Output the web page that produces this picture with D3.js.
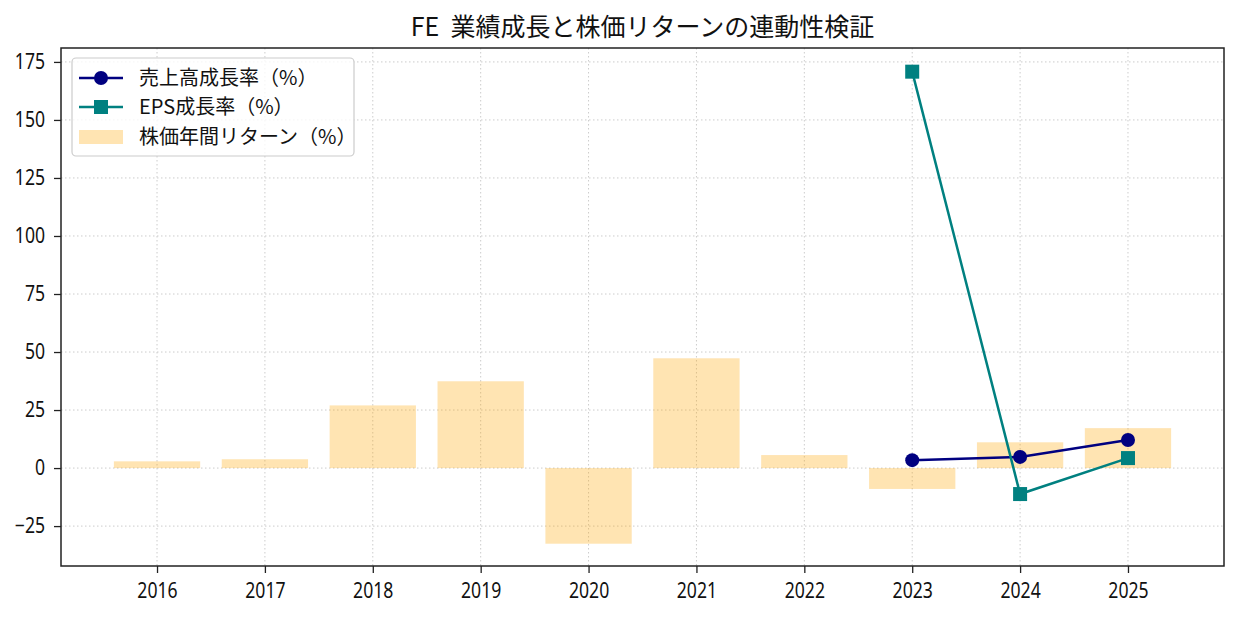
<!DOCTYPE html>
<html><head><meta charset="utf-8">
<script src="https://cdn.jsdelivr.net/npm/d3@7"></script>
<style>body{margin:0;background:#fff;} text{font-family:"Noto Sans CJK JP","Noto Sans",sans-serif;}</style>
</head><body>
<svg id="c" width="1238" height="617"></svg>
<script>
const years = ["2016","2017","2018","2019","2020","2021","2022","2023","2024","2025"];
const stockReturn = [2.9, 3.8, 27.0, 37.4, -32.6, 47.3, 5.6, -9.0, 11.1, 17.2];
const revenueYears = ["2023","2024","2025"];
const revenueGrowth = [3.4, 4.8, 12.1];
const epsYears = ["2023","2024","2025"];
const epsGrowth = [170.8, -11.2, 4.3];
const yTicks = [-25, 0, 25, 50, 75, 100, 125, 150, 175];
const title = "FE  業績成長と株価リターンの連動性検証";
const legendLabels = ["売上高成長率（%）", "EPS成長率（%）", "株価年間リターン（%）"];

const svg = d3.select("#c");
const L = 61, R = 1224, T = 48, B = 566;
const idx = d3.scaleLinear().domain([-0.89, 9.89]).range([L, R]);
const x = y => idx(years.indexOf(y));
const y = d3.scaleLinear().domain([-42.2, 181]).range([B, T]);
const bw = idx(0.4) - idx(-0.4);

// grid
const g = svg.append("g");
g.selectAll(".gx").data(years).join("line")
  .attr("x1", d => x(d)).attr("x2", d => x(d)).attr("y1", T).attr("y2", B)
  .attr("stroke", "#cccccc").attr("stroke-width", 1).attr("stroke-dasharray", "1.5,2.5");
g.selectAll(".gy").data(yTicks).join("line")
  .attr("x1", L).attr("x2", R).attr("y1", d => y(d)).attr("y2", d => y(d))
  .attr("stroke", "#cccccc").attr("stroke-width", 1).attr("stroke-dasharray", "1.5,2.5");

// bars
svg.append("g").selectAll("rect").data(years).join("rect")
  .attr("x", d => x(d) - bw/2).attr("width", bw)
  .attr("y", (d,i) => y(Math.max(0, stockReturn[i])))
  .attr("height", (d,i) => Math.abs(y(stockReturn[i]) - y(0)))
  .attr("fill", "orange").attr("fill-opacity", 0.3);

// lines
const line = d3.line().x(d => x(d[0])).y(d => y(d[1]));
const rev = revenueYears.map((d,i) => [d, revenueGrowth[i]]);
const eps = epsYears.map((d,i) => [d, epsGrowth[i]]);
svg.append("path").attr("d", line(rev)).attr("fill","none").attr("stroke","navy").attr("stroke-width",2.5);
svg.append("g").selectAll("circle").data(rev).join("circle")
  .attr("cx", d => x(d[0])).attr("cy", d => y(d[1])).attr("r", 7).attr("fill","navy");
svg.append("path").attr("d", line(eps)).attr("fill","none").attr("stroke","teal").attr("stroke-width",2.5);
svg.append("g").selectAll("rect").data(eps).join("rect")
  .attr("x", d => x(d[0]) - 7).attr("y", d => y(d[1]) - 7).attr("width", 14).attr("height", 14).attr("fill","teal");

// axes
const xa = svg.append("g").attr("transform", `translate(0,${B})`)
  .call(d3.axisBottom(d3.scalePoint().domain(years).range([x(years[0]), x(years[9])])).tickSizeOuter(0).tickSize(7).tickPadding(10));
const ya = svg.append("g").attr("transform", `translate(${L},0)`)
  .call(d3.axisLeft(y).tickValues(yTicks).tickSize(7).tickPadding(12).tickSizeOuter(0).tickFormat(d => d < 0 ? "\u2212" + Math.abs(d) : d));
[xa, ya].forEach(a => {
  a.select(".domain").remove();
  a.selectAll("line").attr("stroke", "#222").attr("stroke-width", 1.3);
  a.selectAll("text").attr("fill", "#111").style("font-size", "21px")
   .style("font-family", '"Noto Sans","Noto Sans CJK JP",sans-serif')
   .attr("transform", "scale(0.84,1)");
});
svg.append("rect").attr("x", L).attr("y", T).attr("width", R-L).attr("height", B-T)
  .attr("fill","none").attr("stroke","#222").attr("stroke-width",1.5);

// title
svg.append("text").attr("x", (L+R)/2).attr("y", 36).attr("text-anchor","middle")
  .style("font-size","25px").style("white-space","pre").attr("xml:space","preserve").attr("fill","#111").text(title);

// legend
const lg = svg.append("g");
lg.append("rect").attr("x", 72).attr("y", 58).attr("width", 282).attr("height", 98).attr("rx", 4)
  .attr("fill","white").attr("fill-opacity",0.8).attr("stroke","#ccc").attr("stroke-width",1.2);
const rows = [78, 107, 137];
lg.append("line").attr("x1",79).attr("x2",123).attr("y1",rows[0]).attr("y2",rows[0]).attr("stroke","navy").attr("stroke-width",2.5);
lg.append("circle").attr("cx",101).attr("cy",rows[0]).attr("r",7).attr("fill","navy");
lg.append("line").attr("x1",79).attr("x2",123).attr("y1",rows[1]).attr("y2",rows[1]).attr("stroke","teal").attr("stroke-width",2.5);
lg.append("rect").attr("x",94).attr("y",rows[1]-7).attr("width",14).attr("height",14).attr("fill","teal");
lg.append("rect").attr("x",79).attr("y",rows[2]-7).attr("width",44).attr("height",14).attr("fill","orange").attr("fill-opacity",0.3);
lg.selectAll("text").data(legendLabels).join("text")
  .attr("x", 139).attr("y", (d,i) => rows[i]).attr("dy","0.36em")
  .style("font-size","20px").attr("fill","#111").text(d => d);
</script>
</body></html>
